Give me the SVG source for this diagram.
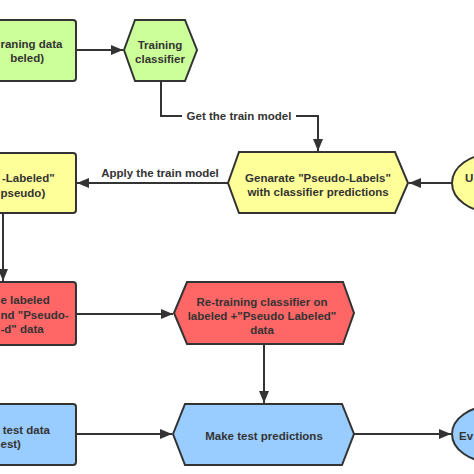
<svg xmlns="http://www.w3.org/2000/svg" width="474" height="474" viewBox="0 0 474 474">
<style>
.n{stroke:#333;stroke-width:2}
.g{fill:#ccff99}.y{fill:#ffff99}.r{fill:#ff6666}.b{fill:#99ccff}
text{font-family:"Liberation Sans",Arial,sans-serif;font-weight:bold;font-size:11.5px;fill:#333}
.c{text-anchor:middle}.e{text-anchor:end}
.l{fill:none;stroke:#333;stroke-width:2}
</style>
<defs>
<marker id="a" markerWidth="12" markerHeight="10" refX="12" refY="5" orient="auto" markerUnits="userSpaceOnUse">
<path d="M0,0 L12,5 L0,10 z" fill="#333"/>
</marker>
</defs>
<rect width="474" height="474" fill="#fff"/>
<g id="connectors">
<path class="l" d="M76,50 H123" marker-end="url(#a)"/>
<path class="l" d="M161,81 V116 H182"/>
<path class="l" d="M296,116 H318 V151" marker-end="url(#a)"/>
<path class="l" d="M228,183 H77" marker-end="url(#a)"/>
<path class="l" d="M452,183 H409" marker-end="url(#a)"/>
<path class="l" d="M3,213 V281" marker-end="url(#a)"/>
<path class="l" d="M76,314 H173" marker-end="url(#a)"/>
<path class="l" d="M264,345 V403" marker-end="url(#a)"/>
<path class="l" d="M76,434 H172" marker-end="url(#a)"/>
<path class="l" d="M354,434 H451" marker-end="url(#a)"/>
<text x="239" y="120" class="c">Get the train model</text>
<text x="160" y="177" class="c">Apply the train model</text>
</g>
<g id="train-data">
<rect class="n g" x="-20" y="20" width="96" height="61" rx="3"/>
<text x="0.5" y="48">raning data</text>
<text x="44" y="62" class="e">beled)</text>
</g>
<g id="training-classifier">
<polygon class="n g" points="124,50 135,20 185,20 197,50 185,81 135,81"/>
<text x="160" y="49" class="c">Training</text>
<text x="160" y="63" class="c">classifier</text>
</g>
<g id="pseudo-data">
<rect class="n y" x="-20" y="153" width="96" height="60" rx="3"/>
<text x="2" y="182">-Labeled"</text>
<text x="0.5" y="197">pseudo)</text>
</g>
<g id="generate">
<polygon class="n y" points="228,183 239,152 395,152 408,183 395,213 239,213"/>
<text x="318" y="182" class="c">Genarate "Pseudo-Labels"</text>
<text x="318" y="196" class="c">with classifier predictions</text>
</g>
<g id="unlabeled">
<ellipse class="n y" cx="492" cy="183" rx="40" ry="29"/>
<text x="465" y="182">U</text>
</g>
<g id="combined-data">
<rect class="n r" x="-20" y="282" width="96" height="63" rx="3"/>
<text x="0.5" y="304">e labeled</text>
<text x="0.5" y="319">nd "Pseudo-</text>
<text x="0.5" y="333">-d" data</text>
</g>
<g id="retraining">
<polygon class="n r" points="174,313 187,282 343,282 354,313 343,344 187,344"/>
<text x="262" y="306" class="c">Re-training classifier on</text>
<text x="262" y="320" class="c">labeled +"Pseudo Labeled"</text>
<text x="262" y="334" class="c">data</text>
</g>
<g id="test-data">
<rect class="n b" x="-20" y="404" width="96" height="61" rx="3"/>
<text x="50" y="434" class="e">test data</text>
<text x="0.5" y="448">est)</text>
</g>
<g id="predict">
<polygon class="n b" points="173,434 185,404 342,404 354,434 342,465 185,465"/>
<text x="264" y="440" class="c">Make test predictions</text>
</g>
<g id="evaluate">
<ellipse class="n b" cx="492" cy="434" rx="40" ry="28"/>
<text x="459" y="440">Ev</text>
</g>
</svg>
